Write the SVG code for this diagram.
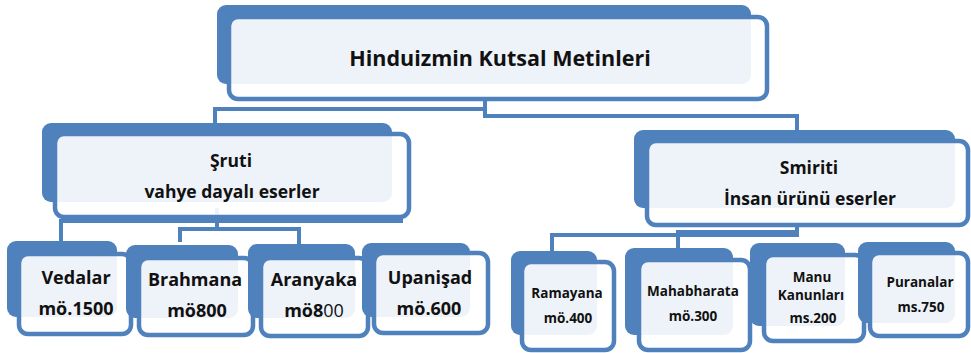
<svg xmlns="http://www.w3.org/2000/svg" width="971" height="353" viewBox="0 0 971 353">
<style>
.back{fill:#4F81BD}
.front{fill:#FFFFFF;fill-opacity:0.9;stroke:#4F81BD;stroke-width:4.5}
.conn{fill:none;stroke:#4F81BD;stroke-width:4}
text{font-family:"Open Sans","Liberation Sans",sans-serif;font-weight:bold;fill:#111;text-anchor:middle}
.t1{font-size:21.5px}
.t2{font-size:17.5px}
.t3{font-size:18px}
.t4{font-size:13.5px}
</style>
<rect width="971" height="353" fill="#FFFFFF"/>
<g id="connectors">
<path class="conn" d="M485,99 V116 H797 V131"/>
<path class="conn" d="M485,109 H215 V123"/>
<path class="conn" d="M217,208 V229"/>
<path class="conn" d="M403,221 H61 V241"/>
<path class="conn" d="M180,242 V229 H299 V244"/>
<path class="conn" d="M797,225 V235 H552 V251"/>
<path class="conn" d="M797,232 H678 V248"/>
</g>
<g id="root">
<rect class="back" x="217" y="5" width="534" height="79" rx="9"/>
<rect class="front" x="229" y="17" width="538" height="82" rx="9"/>
<text class="t1" x="500" y="66">Hinduizmin Kutsal Metinleri</text>
</g>
<g id="sruti">
<rect class="back" x="42" y="123" width="350" height="79" rx="9"/>
<rect class="front" x="55" y="134" width="354" height="83" rx="9"/>
<text class="t2" x="231" y="167">Şruti</text>
<text class="t2" x="232" y="198">vahye dayalı eserler</text>
</g>
<g id="smiriti">
<rect class="back" x="634" y="130" width="321" height="78" rx="9"/>
<rect class="front" x="647" y="141" width="321" height="84" rx="9"/>
<text class="t2" x="809" y="174">Smiriti</text>
<text class="t2" x="810" y="205">İnsan ürünü eserler</text>
</g>
<g id="vedalar">
<rect class="back" x="7" y="241" width="110" height="76" rx="9"/>
<rect class="front" x="19" y="254" width="112" height="80" rx="9"/>
<text class="t3" x="76" y="284">Vedalar</text>
<text class="t3" x="76" y="315">mö.1500</text>
</g>
<g id="brahmana">
<rect class="back" x="126" y="245" width="112" height="73" rx="9"/>
<rect class="front" x="139" y="258" width="114" height="77" rx="9"/>
<text class="t3" x="195" y="286">Brahmana</text>
<text class="t3" x="197" y="317">mö800</text>
</g>
<g id="aranyaka">
<rect class="back" x="248" y="244" width="107" height="74" rx="9"/>
<rect class="front" x="261" y="258" width="107" height="78" rx="9"/>
<text class="t3" x="314" y="286">Aranyaka</text>
<text class="t3" x="314" y="317">mö8<tspan font-weight="normal">00</tspan></text>
</g>
<g id="upanisad">
<rect class="back" x="362" y="243" width="108" height="74" rx="9"/>
<rect class="front" x="374" y="253" width="114" height="80" rx="9"/>
<text class="t3" x="430" y="284">Upanişad</text>
<text class="t3" x="429" y="315">mö.600</text>
</g>
<g id="ramayana">
<rect class="back" x="511" y="251" width="86" height="84" rx="9"/>
<rect class="front" x="522" y="262" width="92" height="88" rx="9"/>
<text class="t4" x="567" y="298">Ramayana</text>
<text class="t4" x="568" y="323">mö.400</text>
</g>
<g id="mahabharata">
<rect class="back" x="625" y="248" width="108" height="87" rx="9"/>
<rect class="front" x="639" y="260" width="111" height="90" rx="9"/>
<text class="t4" x="693" y="296">Mahabharata</text>
<text class="t4" x="693" y="321">mö.300</text>
</g>
<g id="manu">
<rect class="back" x="750" y="243" width="95" height="83" rx="9"/>
<rect class="front" x="764" y="255" width="100" height="86" rx="9"/>
<text class="t4" x="812" y="282">Manu</text>
<text class="t4" x="811" y="300">Kanunları</text>
<text class="t4" x="813" y="323">ms.200</text>
</g>
<g id="puranalar">
<rect class="back" x="858" y="242" width="97" height="81" rx="9"/>
<rect class="front" x="870" y="253" width="98" height="83" rx="9"/>
<text class="t4" x="920" y="287">Puranalar</text>
<text class="t4" x="921" y="312">ms.750</text>
</g>
</svg>
